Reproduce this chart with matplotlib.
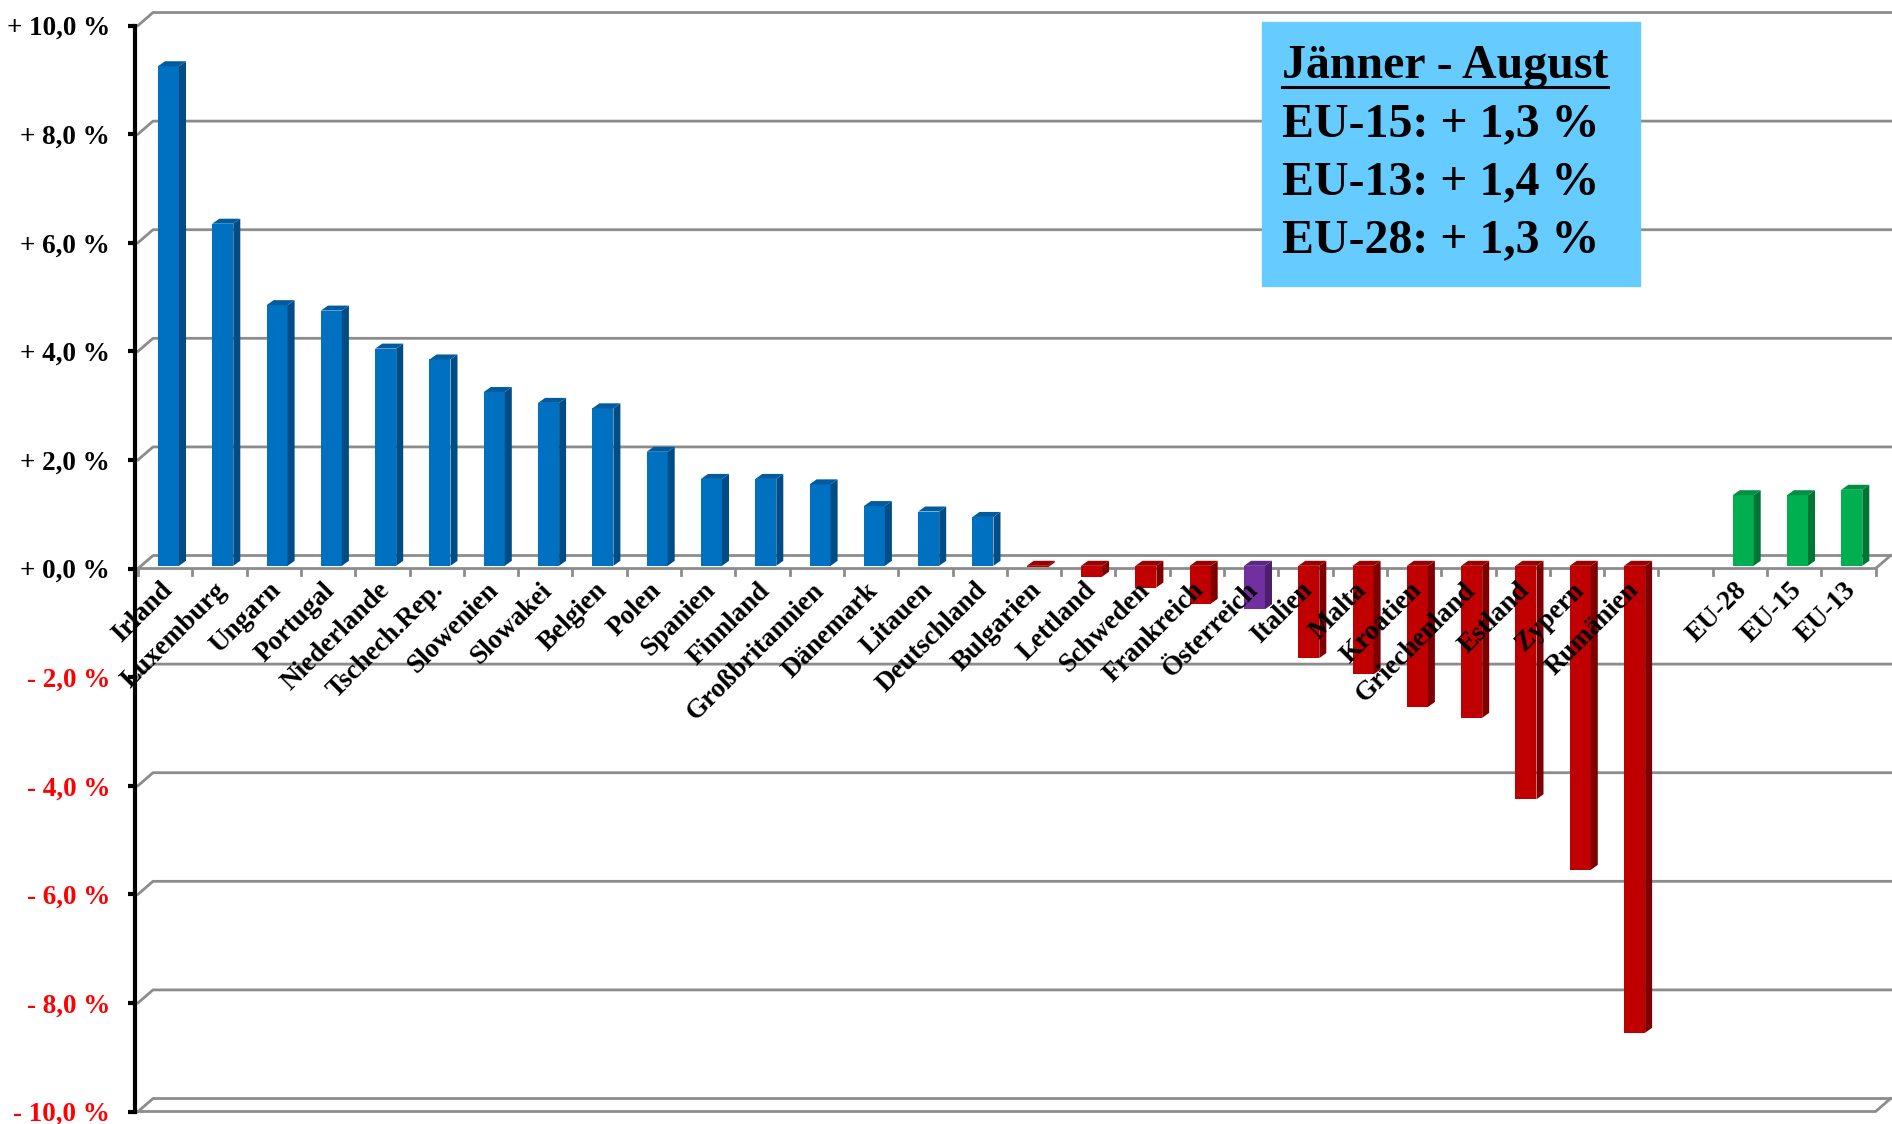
import matplotlib
matplotlib.use("Agg")
import matplotlib.pyplot as plt
from matplotlib.patches import Polygon, Rectangle
from matplotlib.ticker import FuncFormatter
import numpy as np

plt.rcParams['font.family'] = ['Liberation Serif', 'DejaVu Serif']
plt.rcParams['font.weight'] = 'bold'

countries = ["Irland", "Luxemburg", "Ungarn", "Portugal", "Niederlande", "Tschech.Rep.",
             "Slowenien", "Slowakei", "Belgien", "Polen", "Spanien", "Finnland",
             "Großbritannien", "Dänemark", "Litauen", "Deutschland", "Bulgarien",
             "Lettland", "Schweden", "Frankreich", "Österreich", "Italien", "Malta",
             "Kroatien", "Griechenland", "Estland", "Zypern", "Rumänien"]
country_vals = [9.2, 6.3, 4.8, 4.7, 4.0, 3.8, 3.2, 3.0, 2.9, 2.1, 1.6, 1.6, 1.5, 1.1,
                1.0, 0.9, -0.03, -0.2, -0.4, -0.7, -0.8, -1.7, -2.0, -2.6, -2.8,
                -4.3, -5.6, -8.6]
eu_names = ["EU-28", "EU-15", "EU-13"]
eu_vals = [1.3, 1.3, 1.4]

box_title = "Jänner - August"
box_lines = ["EU-15: + 1,3 %", "EU-13: + 1,4 %", "EU-28: + 1,3 %"]

# colours: front, side, top
BLUE = ("#0070C0", "#004C85", "#005C9F")
RED = ("#C00000", "#7E0000", "#9A0000")
PURPLE = ("#7030A0", "#4A1F6B", "#5A2682")
GREEN = ("#00B050", "#007535", "#009042")
GRID = "#8C8C8C"

names = countries + [""] + eu_names
vals = country_vals + [np.nan] + eu_vals
n_slots = len(names)

fig = plt.figure(figsize=(18.92, 11.24), dpi=100)
ax = fig.add_axes([0, 0, 1, 1])
px = 54.3  # pixels per slot / per percent
ax.set_xlim(-138 / px, 1892 / px - 138 / px)
ax.set_ylim(-10.23, 10.47)
for s in ["top", "right", "bottom"]:
    ax.spines[s].set_visible(False)

# 3d offsets
wx, wy = 15 / px, 13 / px      # wall depth
dx, dy = 7 / px, 5 / px        # bar depth
b0 = 0.05

# back wall gridlines
for v in range(-10, 11, 2):
    ax.plot([0, wx, n_slots + 0.3], [v, v + wy, v + wy], color=GRID, lw=2, zorder=1)
# floor front lines at 0 and -10
for v in [0, -10]:
    ax.plot([0, n_slots, n_slots + wx], [v, v, v + wy], color=GRID, lw=2, zorder=1)
for k in range(n_slots + 1):
    ax.plot([k, k], [0, -0.12], color=GRID, lw=2, zorder=1)

# bars
for i, (name, v) in enumerate(zip(names, vals)):
    if np.isnan(v):
        continue
    if name in eu_names:
        cols = GREEN
    elif name == "Österreich":
        cols = PURPLE
    elif v < 0:
        cols = RED
    else:
        cols = BLUE
    x0 = i + 0.368
    w = 0.387
    lo, hi = b0 + min(v, 0), b0 + max(v, 0)
    ax.bar(x0, v, width=w, bottom=b0, align='edge', color=cols[0], zorder=3)
    ax.add_patch(Polygon([(x0 + w, lo), (x0 + w + dx, lo + dy), (x0 + w + dx, hi + dy),
                          (x0 + w, hi)], closed=True, color=cols[1], lw=0, zorder=3))
    ax.add_patch(Polygon([(x0, hi), (x0 + w, hi), (x0 + w + dx, hi + dy),
                          (x0 + dx, hi + dy)], closed=True, color=cols[2], lw=0, zorder=3))

# category labels
for i, name in enumerate(names):
    if name:
        ax.text(i + 0.4, -0.17, name, rotation=45, rotation_mode='anchor',
                ha='right', va='top', fontsize=19.5, fontweight='bold', zorder=5)

# y axis
ax.spines['left'].set_position(('data', -3 / px))
ax.spines['left'].set_bounds(-10, 10)
ax.spines['left'].set_linewidth(3)
ax.set_yticks(np.arange(-10, 11, 2))
ax.set_xticks([])


def fmt(v, pos):
    s = "%.1f" % abs(v)
    return ("+ " if v >= 0 else "- ") + s.replace(".", ",") + " %"


ax.yaxis.set_major_formatter(FuncFormatter(fmt))
ax.tick_params(axis='y', length=5, width=3, pad=13, labelsize=19.5)
for lab, v in zip(ax.get_yticklabels(), np.arange(-10, 11, 2)):
    lab.set_fontweight('bold')
    lab.set_color('red' if v < 0 else 'black')

# info box
W, H = 1892, 1124
fig.patches.append(Rectangle((1262 / W, 1 - 286 / H), 378 / W, 264 / H,
                             transform=fig.transFigure, color="#66CCFF", zorder=6))
t = fig.text(1282 / W, 1 - 78 / H, box_title, fontsize=34.5, fontweight='bold',
             va='baseline', ha='left', zorder=7)
for j, line in enumerate(box_lines):
    fig.text(1282 / W, 1 - (136 + 58 * j) / H, line, fontsize=34.5, fontweight='bold',
             va='baseline', ha='left', zorder=7)
fig.canvas.draw()
bb = t.get_window_extent().transformed(fig.transFigure.inverted())
fig.add_artist(plt.Line2D([bb.x0, bb.x1], [1 - 87 / H, 1 - 87 / H], color='black',
                          lw=2.2, transform=fig.transFigure, zorder=7))

fig.savefig("out.png", dpi=100)
